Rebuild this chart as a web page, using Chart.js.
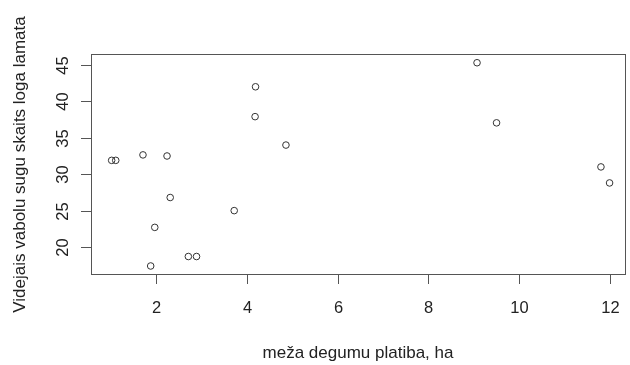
<!DOCTYPE html>
<html>
<head>
<meta charset="utf-8">
<script src="https://cdn.jsdelivr.net/npm/chart.js@4/dist/chart.umd.min.js"></script>
<style>
  html, body { margin: 0; padding: 0; background: #fff; }
  #wrap { width: 630px; height: 365px; }
</style>
</head>
<body>
<div id="wrap"><canvas id="plot"></canvas></div>
<script>
// area of the burnt forest (ha) vs. mean beetle species count per window trap
const areaHa = [1.02, 1.11, 1.71, 2.24, 2.31, 1.97, 1.88, 2.71, 2.89, 3.72, 4.86, 4.19, 4.18, 9.07, 9.50, 11.80, 11.99];
const speciesCount = [31.9, 31.9, 32.65, 32.5, 26.8, 22.7, 17.4, 18.7, 18.7, 25.0, 34.0, 42.0, 37.9, 45.3, 37.05, 31.0, 28.8];
const xTicks = [2, 4, 6, 8, 10, 12];
const yTicks = [20, 25, 30, 35, 40, 45];
const xTitle = 'meža degumu platiba, ha';
const yTitle = 'Videjais vabolu sugu skaits loga lamata';

const TICK_FONT = '16.5px "Liberation Sans", Arial, sans-serif';
const TITLE_FONT = '17px "Liberation Sans", Arial, sans-serif';

// R style box + axes, drawn through the chart's scales
const baseAxes = {
    id: 'baseAxes',
    afterDraw(chart) {
        const { ctx, chartArea: a, scales: { x, y } } = chart;
        ctx.save();
        ctx.strokeStyle = '#555';
        ctx.lineWidth = 1;
        ctx.strokeRect(Math.round(a.left) + 0.5, Math.round(a.top) + 0.5,
            Math.round(a.right - a.left), Math.round(a.bottom - a.top));

        ctx.fillStyle = '#222';
        ctx.font = TICK_FONT;
        ctx.textAlign = 'center';
        ctx.textBaseline = 'alphabetic';

        // x axis ticks
        xTicks.forEach(v => {
            const px = Math.round(x.getPixelForValue(v)) + 0.5;
            ctx.beginPath();
            ctx.moveTo(px, a.bottom);
            ctx.lineTo(px, a.bottom + 10);
            ctx.stroke();
            ctx.fillText(String(v), px, 312.5);
        });

        // y axis ticks, labels turned like in R
        yTicks.forEach(v => {
            const py = Math.round(y.getPixelForValue(v)) + 0.5;
            ctx.beginPath();
            ctx.moveTo(a.left - 10, py);
            ctx.lineTo(a.left, py);
            ctx.stroke();
            ctx.save();
            ctx.translate(68, py);
            ctx.rotate(-Math.PI / 2);
            ctx.fillText(String(v), 0, 0);
            ctx.restore();
        });

        // titles
        ctx.font = TITLE_FONT;
        ctx.fillText(xTitle, (a.left + a.right) / 2, 358);
        ctx.save();
        ctx.translate(25, (a.top + a.bottom) / 2 + 0.5);
        ctx.rotate(-Math.PI / 2);
        ctx.fillText(yTitle, 0, 0);
        ctx.restore();
        ctx.restore();
    }
};

new Chart(document.getElementById('plot'), {
    type: 'scatter',
    data: {
        datasets: [{
            data: areaHa.map((v, i) => ({ x: v, y: speciesCount[i] })),
            pointStyle: 'circle',
            pointRadius: 3.3,
            pointBorderWidth: 1,
            pointBorderColor: '#333',
            pointBackgroundColor: 'rgba(0,0,0,0)'
        }]
    },
    options: {
        responsive: true,
        maintainAspectRatio: false,
        animation: false,
        events: [],
        layout: { padding: { left: 91, right: 2, top: 54, bottom: 91 } },
        plugins: { legend: { display: false }, tooltip: { enabled: false } },
        scales: {
            x: { type: 'linear', display: false, min: 0.565, max: 12.33 },
            y: { type: 'linear', display: false, min: 16.3, max: 46.5 }
        }
    },
    plugins: [baseAxes]
});
</script>
</body>
</html>
